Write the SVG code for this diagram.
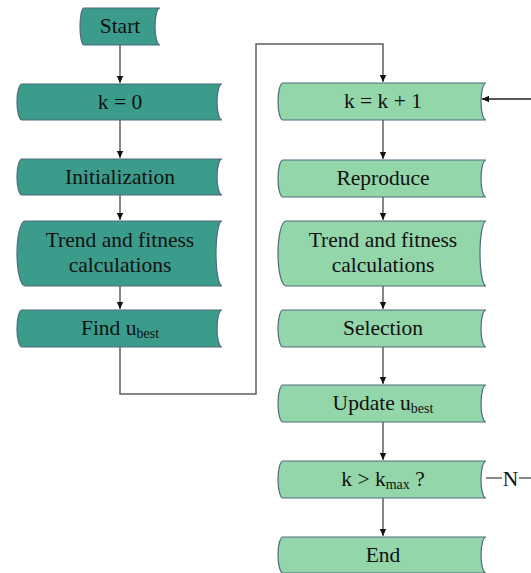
<svg xmlns="http://www.w3.org/2000/svg" width="531" height="573" viewBox="0 0 531 573">
<style>
.dark{fill:#3b9c8c;stroke:#4f6b7c;stroke-width:1.2}
.light{fill:#93d6aa;stroke:#4f6b7c;stroke-width:1.2}
.t{font-family:'Liberation Serif',serif;font-size:21.5px;fill:#111;text-anchor:middle}
.sub{font-size:14px}
.conn line,.conn polyline{stroke:#5f5f5f;stroke-width:1.5;fill:none}
</style>
<defs>
<marker id="ah" markerWidth="8" markerHeight="8" refX="7" refY="4" orient="auto" markerUnits="userSpaceOnUse">
<path d="M0,0.8 L7,4 L0,7.2 Z" fill="#111"/>
</marker>
</defs>
<rect width="531" height="573" fill="#fff"/>
<g class="conn">
<line x1="120" y1="45" x2="120" y2="83" marker-end="url(#ah)"/>
<line x1="120" y1="120" x2="120" y2="158" marker-end="url(#ah)"/>
<line x1="120" y1="195" x2="120" y2="220" marker-end="url(#ah)"/>
<line x1="120" y1="286" x2="120" y2="309" marker-end="url(#ah)"/>
<polyline points="120,347 120,394 256,394 256,44 383,44 383,82" marker-end="url(#ah)"/>
<line x1="383" y1="120" x2="383" y2="159" marker-end="url(#ah)"/>
<line x1="383" y1="197" x2="383" y2="220" marker-end="url(#ah)"/>
<line x1="383" y1="286" x2="383" y2="309" marker-end="url(#ah)"/>
<line x1="383" y1="347" x2="383" y2="384" marker-end="url(#ah)"/>
<line x1="383" y1="422" x2="383" y2="460" marker-end="url(#ah)"/>
<line x1="383" y1="498" x2="383" y2="536" marker-end="url(#ah)"/>
<line x1="531" y1="99" x2="482" y2="99" style="stroke:#222" marker-end="url(#ah)"/>
<line x1="486" y1="478" x2="502" y2="478"/>
<line x1="519" y1="478" x2="531" y2="478"/>
<text class="t" x="510.5" y="485.5">N</text>
</g>
<g id="start">
<path class="dark" d="M84,8 L160,8 A5 18.5 0 0 0 160,45 L84,45 A4 18.5 0 0 1 84,8 Z"/>
<text class="t" x="120" y="33">Start</text>
</g>
<g id="k0">
<path class="dark" d="M22,84 L222,84 A5 18 0 0 0 222,120 L22,120 A5 18 0 0 1 22,84 Z"/>
<text class="t" x="120" y="109">k = 0</text>
</g>
<g id="init">
<path class="dark" d="M22,159 L222,159 A5 18 0 0 0 222,195 L22,195 A5 18 0 0 1 22,159 Z"/>
<text class="t" x="120" y="184">Initialization</text>
</g>
<g id="trend1">
<path class="dark" d="M25,221 L222,221 A6 32.5 0 0 0 222,286 L25,286 A8 32.5 0 0 1 25,221 Z"/>
<text class="t" x="120" y="247">Trend and fitness</text>
<text class="t" x="120" y="272">calculations</text>
</g>
<g id="find">
<path class="dark" d="M22,310 L222,310 A5 18.5 0 0 0 222,347 L22,347 A5 18.5 0 0 1 22,310 Z"/>
<text class="t" x="120" y="335">Find u<tspan class="sub" dy="3">best</tspan></text>
</g>
<g id="kinc">
<path class="light" d="M283,83 L486,83 A5 18.5 0 0 0 486,120 L283,120 A5 18.5 0 0 1 283,83 Z"/>
<text class="t" x="383" y="108">k = k + 1</text>
</g>
<g id="reproduce">
<path class="light" d="M283,160 L486,160 A5 18.5 0 0 0 486,197 L283,197 A5 18.5 0 0 1 283,160 Z"/>
<text class="t" x="383" y="185">Reproduce</text>
</g>
<g id="trend2">
<path class="light" d="M286,221 L486,221 A6 32.5 0 0 0 486,286 L286,286 A8 32.5 0 0 1 286,221 Z"/>
<text class="t" x="383" y="247">Trend and fitness</text>
<text class="t" x="383" y="272">calculations</text>
</g>
<g id="selection">
<path class="light" d="M283,310 L486,310 A5 18.5 0 0 0 486,347 L283,347 A5 18.5 0 0 1 283,310 Z"/>
<text class="t" x="383" y="335">Selection</text>
</g>
<g id="update">
<path class="light" d="M283,385 L486,385 A5 18.5 0 0 0 486,422 L283,422 A5 18.5 0 0 1 283,385 Z"/>
<text class="t" x="383" y="410">Update u<tspan class="sub" dy="3">best</tspan></text>
</g>
<g id="check">
<path class="light" d="M283,461 L486,461 A5 18.5 0 0 0 486,498 L283,498 A5 18.5 0 0 1 283,461 Z"/>
<text class="t" x="383" y="486">k &gt; k<tspan class="sub" dy="3">max</tspan><tspan dy="-3"> ?</tspan></text>
</g>
<g id="end">
<path class="light" d="M283,537 L486,537 A5 18 0 0 0 486,573 L283,573 A5 18 0 0 1 283,537 Z"/>
<text class="t" x="383" y="562">End</text>
</g>
</svg>
